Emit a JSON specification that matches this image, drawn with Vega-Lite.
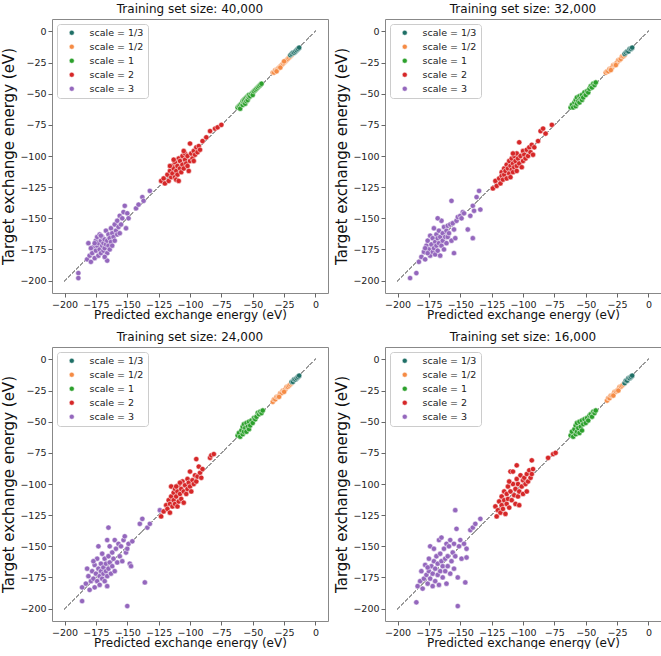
{
  "$schema": "https://vega.github.io/schema/vega-lite/v6.json",
  "padding": {"left": 1, "top": 2, "right": 0, "bottom": 0},
  "background": "white",
  "datasets": {
    "p1": [
      {"s":"3","x":-189,"y":-194},{"s":"3","x":-189,"y":-198},{"s":"3","x":-182,"y":-183},{"s":"3","x":-181,"y":-170},{"s":"3","x":-180,"y":-180},{"s":"3","x":-179,"y":-185},{"s":"3","x":-178,"y":-178},{"s":"3","x":-177,"y":-173},{"s":"3","x":-176,"y":-182},{"s":"3","x":-175,"y":-168},{"s":"3","x":-175,"y":-176},{"s":"3","x":-174,"y":-172},{"s":"3","x":-174,"y":-165},{"s":"3","x":-173,"y":-180},{"s":"3","x":-173,"y":-170},{"s":"3","x":-172,"y":-175},{"s":"3","x":-172,"y":-163},{"s":"3","x":-171,"y":-178},{"s":"3","x":-171,"y":-168},{"s":"3","x":-170,"y":-172},{"s":"3","x":-170,"y":-165},{"s":"3","x":-169,"y":-176},{"s":"3","x":-169,"y":-170},{"s":"3","x":-168,"y":-167},{"s":"3","x":-168,"y":-174},{"s":"3","x":-167,"y":-160},{"s":"3","x":-167,"y":-171},{"s":"3","x":-166,"y":-178},{"s":"3","x":-166,"y":-168},{"s":"3","x":-165,"y":-163},{"s":"3","x":-165,"y":-172},{"s":"3","x":-164,"y":-166},{"s":"3","x":-164,"y":-175},{"s":"3","x":-163,"y":-158},{"s":"3","x":-163,"y":-169},{"s":"3","x":-162,"y":-162},{"s":"3","x":-162,"y":-172},{"s":"3","x":-161,"y":-165},{"s":"3","x":-160,"y":-155},{"s":"3","x":-160,"y":-168},{"s":"3","x":-159,"y":-160},{"s":"3","x":-158,"y":-163},{"s":"3","x":-158,"y":-152},{"s":"3","x":-157,"y":-157},{"s":"3","x":-156,"y":-148},{"s":"3","x":-156,"y":-162},{"s":"3","x":-155,"y":-155},{"s":"3","x":-154,"y":-150},{"s":"3","x":-153,"y":-145},{"s":"3","x":-152,"y":-140},{"s":"3","x":-151,"y":-158},{"s":"3","x":-150,"y":-146},{"s":"3","x":-149,"y":-150},{"s":"3","x":-143,"y":-142},{"s":"3","x":-141,"y":-139},{"s":"3","x":-138,"y":-133},{"s":"3","x":-137,"y":-136},{"s":"3","x":-132,"y":-128},{"s":"3","x":-166,"y":-184},{"s":"3","x":-168,"y":-181},{"s":"3","x":-171,"y":-164},{"s":"3","x":-176,"y":-170},{"s":"3","x":-179,"y":-174},
      {"s":"2","x":-123,"y":-120},{"s":"2","x":-121,"y":-118},{"s":"2","x":-120,"y":-122},{"s":"2","x":-118,"y":-115},{"s":"2","x":-117,"y":-120},{"s":"2","x":-116,"y":-112},{"s":"2","x":-115,"y":-117},{"s":"2","x":-114,"y":-108},{"s":"2","x":-114,"y":-114},{"s":"2","x":-113,"y":-110},{"s":"2","x":-112,"y":-117},{"s":"2","x":-112,"y":-105},{"s":"2","x":-111,"y":-112},{"s":"2","x":-110,"y":-108},{"s":"2","x":-110,"y":-115},{"s":"2","x":-109,"y":-102},{"s":"2","x":-108,"y":-110},{"s":"2","x":-108,"y":-104},{"s":"2","x":-107,"y":-113},{"s":"2","x":-106,"y":-100},{"s":"2","x":-106,"y":-107},{"s":"2","x":-105,"y":-110},{"s":"2","x":-104,"y":-103},{"s":"2","x":-104,"y":-98},{"s":"2","x":-103,"y":-106},{"s":"2","x":-102,"y":-100},{"s":"2","x":-101,"y":-112},{"s":"2","x":-100,"y":-90},{"s":"2","x":-100,"y":-104},{"s":"2","x":-99,"y":-98},{"s":"2","x":-98,"y":-102},{"s":"2","x":-97,"y":-96},{"s":"2","x":-96,"y":-99},{"s":"2","x":-95,"y":-93},{"s":"2","x":-94,"y":-97},{"s":"2","x":-93,"y":-92},{"s":"2","x":-92,"y":-95},{"s":"2","x":-90,"y":-88},{"s":"2","x":-87,"y":-85},{"s":"2","x":-84,"y":-80},{"s":"2","x":-80,"y":-78},{"s":"2","x":-78,"y":-77},{"s":"2","x":-75,"y":-75},{"s":"2","x":-111,"y":-119},{"s":"2","x":-109,"y":-120},{"s":"2","x":-105,"y":-96},{"s":"2","x":-102,"y":-108},{"s":"2","x":-97,"y":-104},{"s":"2","x":-113,"y":-103},{"s":"2","x":-116,"y":-108},
      {"s":"1","x":-62,"y":-61},{"s":"1","x":-61,"y":-60},{"s":"1","x":-60,"y":-59},{"s":"1","x":-60,"y":-62},{"s":"1","x":-59,"y":-58},{"s":"1","x":-58,"y":-59},{"s":"1","x":-58,"y":-56},{"s":"1","x":-57,"y":-57},{"s":"1","x":-57,"y":-55},{"s":"1","x":-56,"y":-58},{"s":"1","x":-56,"y":-54},{"s":"1","x":-55,"y":-56},{"s":"1","x":-55,"y":-53},{"s":"1","x":-54,"y":-55},{"s":"1","x":-54,"y":-52},{"s":"1","x":-53,"y":-53},{"s":"1","x":-53,"y":-51},{"s":"1","x":-52,"y":-52},{"s":"1","x":-51,"y":-50},{"s":"1","x":-50,"y":-49},{"s":"1","x":-50,"y":-51},{"s":"1","x":-49,"y":-48},{"s":"1","x":-48,"y":-47},{"s":"1","x":-47,"y":-46},{"s":"1","x":-46,"y":-45},{"s":"1","x":-45,"y":-44},{"s":"1","x":-44,"y":-43},{"s":"1","x":-43,"y":-42},
      {"s":"1/2","x":-34,"y":-33},{"s":"1/2","x":-33,"y":-33},{"s":"1/2","x":-32,"y":-31},{"s":"1/2","x":-31,"y":-31},{"s":"1/2","x":-30,"y":-30},{"s":"1/2","x":-29,"y":-29},{"s":"1/2","x":-28,"y":-28},{"s":"1/2","x":-27,"y":-27},{"s":"1/2","x":-26,"y":-26},{"s":"1/2","x":-25,"y":-25},{"s":"1/2","x":-24,"y":-24},{"s":"1/2","x":-23,"y":-23},{"s":"1/2","x":-22,"y":-22},{"s":"1/2","x":-21,"y":-21},{"s":"1/2","x":-20,"y":-20},{"s":"1/2","x":-19,"y":-19},{"s":"1/2","x":-31,"y":-32},{"s":"1/2","x":-28,"y":-29},{"s":"1/2","x":-25,"y":-24},
      {"s":"1/3","x":-20,"y":-19},{"s":"1/3","x":-19,"y":-18},{"s":"1/3","x":-18,"y":-17},{"s":"1/3","x":-17,"y":-17},{"s":"1/3","x":-16,"y":-16},{"s":"1/3","x":-15,"y":-15},{"s":"1/3","x":-14,"y":-14},{"s":"1/3","x":-13,"y":-13}
    ],
    "p2": [
      {"s":"3","x":-190,"y":-198},{"s":"3","x":-185,"y":-194},{"s":"3","x":-183,"y":-185},{"s":"3","x":-181,"y":-181},{"s":"3","x":-179,"y":-177},{"s":"3","x":-178,"y":-183},{"s":"3","x":-177,"y":-172},{"s":"3","x":-176,"y":-168},{"s":"3","x":-175,"y":-175},{"s":"3","x":-174,"y":-180},{"s":"3","x":-174,"y":-164},{"s":"3","x":-173,"y":-171},{"s":"3","x":-172,"y":-177},{"s":"3","x":-172,"y":-166},{"s":"3","x":-171,"y":-158},{"s":"3","x":-171,"y":-174},{"s":"3","x":-170,"y":-169},{"s":"3","x":-170,"y":-179},{"s":"3","x":-169,"y":-163},{"s":"3","x":-169,"y":-172},{"s":"3","x":-168,"y":-166},{"s":"3","x":-168,"y":-176},{"s":"3","x":-167,"y":-160},{"s":"3","x":-167,"y":-170},{"s":"3","x":-166,"y":-180},{"s":"3","x":-166,"y":-165},{"s":"3","x":-165,"y":-172},{"s":"3","x":-164,"y":-162},{"s":"3","x":-164,"y":-168},{"s":"3","x":-163,"y":-175},{"s":"3","x":-163,"y":-157},{"s":"3","x":-162,"y":-165},{"s":"3","x":-161,"y":-160},{"s":"3","x":-161,"y":-170},{"s":"3","x":-160,"y":-156},{"s":"3","x":-160,"y":-165},{"s":"3","x":-159,"y":-162},{"s":"3","x":-158,"y":-155},{"s":"3","x":-157,"y":-136},{"s":"3","x":-157,"y":-168},{"s":"3","x":-156,"y":-154},{"s":"3","x":-155,"y":-178},{"s":"3","x":-155,"y":-159},{"s":"3","x":-154,"y":-166},{"s":"3","x":-153,"y":-152},{"s":"3","x":-152,"y":-149},{"s":"3","x":-150,"y":-148},{"s":"3","x":-149,"y":-150},{"s":"3","x":-148,"y":-145},{"s":"3","x":-147,"y":-146},{"s":"3","x":-144,"y":-159},{"s":"3","x":-142,"y":-148},{"s":"3","x":-140,"y":-140},{"s":"3","x":-140,"y":-166},{"s":"3","x":-139,"y":-144},{"s":"3","x":-137,"y":-133},{"s":"3","x":-135,"y":-128},{"s":"3","x":-134,"y":-143},{"s":"3","x":-165,"y":-152},{"s":"3","x":-168,"y":-150},{"s":"3","x":-176,"y":-178},{"s":"3","x":-178,"y":-174},
      {"s":"2","x":-124,"y":-126},{"s":"2","x":-122,"y":-120},{"s":"2","x":-121,"y":-124},{"s":"2","x":-119,"y":-118},{"s":"2","x":-118,"y":-122},{"s":"2","x":-117,"y":-113},{"s":"2","x":-117,"y":-116},{"s":"2","x":-116,"y":-119},{"s":"2","x":-115,"y":-110},{"s":"2","x":-115,"y":-115},{"s":"2","x":-114,"y":-112},{"s":"2","x":-113,"y":-118},{"s":"2","x":-113,"y":-107},{"s":"2","x":-112,"y":-110},{"s":"2","x":-111,"y":-114},{"s":"2","x":-111,"y":-104},{"s":"2","x":-110,"y":-108},{"s":"2","x":-110,"y":-117},{"s":"2","x":-109,"y":-102},{"s":"2","x":-109,"y":-111},{"s":"2","x":-108,"y":-106},{"s":"2","x":-108,"y":-113},{"s":"2","x":-107,"y":-100},{"s":"2","x":-107,"y":-109},{"s":"2","x":-106,"y":-104},{"s":"2","x":-105,"y":-108},{"s":"2","x":-105,"y":-98},{"s":"2","x":-104,"y":-102},{"s":"2","x":-103,"y":-106},{"s":"2","x":-102,"y":-100},{"s":"2","x":-101,"y":-109},{"s":"2","x":-100,"y":-96},{"s":"2","x":-100,"y":-104},{"s":"2","x":-99,"y":-99},{"s":"2","x":-98,"y":-102},{"s":"2","x":-97,"y":-95},{"s":"2","x":-96,"y":-100},{"s":"2","x":-95,"y":-93},{"s":"2","x":-94,"y":-97},{"s":"2","x":-93,"y":-91},{"s":"2","x":-92,"y":-99},{"s":"2","x":-91,"y":-93},{"s":"2","x":-88,"y":-88},{"s":"2","x":-86,"y":-80},{"s":"2","x":-84,"y":-78},{"s":"2","x":-82,"y":-82},{"s":"2","x":-77,"y":-75},{"s":"2","x":-103,"y":-89},{"s":"2","x":-108,"y":-98},{"s":"2","x":-105,"y":-112},
      {"s":"1","x":-62,"y":-61},{"s":"1","x":-61,"y":-59},{"s":"1","x":-60,"y":-61},{"s":"1","x":-59,"y":-57},{"s":"1","x":-58,"y":-60},{"s":"1","x":-58,"y":-55},{"s":"1","x":-57,"y":-58},{"s":"1","x":-57,"y":-53},{"s":"1","x":-56,"y":-56},{"s":"1","x":-55,"y":-57},{"s":"1","x":-55,"y":-52},{"s":"1","x":-54,"y":-54},{"s":"1","x":-53,"y":-55},{"s":"1","x":-53,"y":-51},{"s":"1","x":-52,"y":-53},{"s":"1","x":-51,"y":-49},{"s":"1","x":-50,"y":-51},{"s":"1","x":-49,"y":-48},{"s":"1","x":-48,"y":-49},{"s":"1","x":-47,"y":-46},{"s":"1","x":-46,"y":-44},{"s":"1","x":-45,"y":-45},{"s":"1","x":-44,"y":-42},{"s":"1","x":-43,"y":-43},{"s":"1","x":-42,"y":-41},
      {"s":"1/2","x":-34,"y":-33},{"s":"1/2","x":-33,"y":-32},{"s":"1/2","x":-32,"y":-32},{"s":"1/2","x":-31,"y":-30},{"s":"1/2","x":-30,"y":-30},{"s":"1/2","x":-29,"y":-29},{"s":"1/2","x":-28,"y":-27},{"s":"1/2","x":-27,"y":-27},{"s":"1/2","x":-26,"y":-26},{"s":"1/2","x":-25,"y":-25},{"s":"1/2","x":-24,"y":-23},{"s":"1/2","x":-23,"y":-23},{"s":"1/2","x":-22,"y":-22},{"s":"1/2","x":-21,"y":-20},{"s":"1/2","x":-20,"y":-20},{"s":"1/2","x":-19,"y":-19},{"s":"1/2","x":-30,"y":-31},{"s":"1/2","x":-26,"y":-27},
      {"s":"1/3","x":-19,"y":-18},{"s":"1/3","x":-18,"y":-17},{"s":"1/3","x":-17,"y":-16},{"s":"1/3","x":-16,"y":-16},{"s":"1/3","x":-15,"y":-14},{"s":"1/3","x":-14,"y":-14},{"s":"1/3","x":-13,"y":-13}
    ],
    "p3": [
      {"s":"3","x":-186,"y":-194},{"s":"3","x":-186,"y":-183},{"s":"3","x":-183,"y":-180},{"s":"3","x":-182,"y":-168},{"s":"3","x":-181,"y":-174},{"s":"3","x":-180,"y":-185},{"s":"3","x":-179,"y":-178},{"s":"3","x":-178,"y":-170},{"s":"3","x":-177,"y":-176},{"s":"3","x":-176,"y":-183},{"s":"3","x":-176,"y":-165},{"s":"3","x":-175,"y":-172},{"s":"3","x":-174,"y":-178},{"s":"3","x":-174,"y":-160},{"s":"3","x":-173,"y":-168},{"s":"3","x":-172,"y":-174},{"s":"3","x":-172,"y":-181},{"s":"3","x":-171,"y":-164},{"s":"3","x":-171,"y":-170},{"s":"3","x":-170,"y":-176},{"s":"3","x":-170,"y":-156},{"s":"3","x":-169,"y":-167},{"s":"3","x":-169,"y":-172},{"s":"3","x":-168,"y":-160},{"s":"3","x":-168,"y":-178},{"s":"3","x":-167,"y":-164},{"s":"3","x":-167,"y":-170},{"s":"3","x":-166,"y":-145},{"s":"3","x":-166,"y":-174},{"s":"3","x":-166,"y":-182},{"s":"3","x":-165,"y":-135},{"s":"3","x":-165,"y":-158},{"s":"3","x":-165,"y":-168},{"s":"3","x":-164,"y":-150},{"s":"3","x":-164,"y":-163},{"s":"3","x":-163,"y":-172},{"s":"3","x":-162,"y":-155},{"s":"3","x":-162,"y":-166},{"s":"3","x":-161,"y":-160},{"s":"3","x":-160,"y":-145},{"s":"3","x":-160,"y":-170},{"s":"3","x":-159,"y":-152},{"s":"3","x":-158,"y":-163},{"s":"3","x":-157,"y":-148},{"s":"3","x":-156,"y":-158},{"s":"3","x":-155,"y":-150},{"s":"3","x":-154,"y":-162},{"s":"3","x":-153,"y":-145},{"s":"3","x":-152,"y":-142},{"s":"3","x":-151,"y":-155},{"s":"3","x":-150,"y":-198},{"s":"3","x":-150,"y":-152},{"s":"3","x":-149,"y":-148},{"s":"3","x":-148,"y":-164},{"s":"3","x":-147,"y":-166},{"s":"3","x":-146,"y":-146},{"s":"3","x":-140,"y":-132},{"s":"3","x":-138,"y":-128},{"s":"3","x":-136,"y":-179},{"s":"3","x":-134,"y":-135},{"s":"3","x":-132,"y":-132},{"s":"3","x":-124,"y":-121},{"s":"3","x":-173,"y":-150},{"s":"3","x":-177,"y":-162},
      {"s":"2","x":-123,"y":-126},{"s":"2","x":-121,"y":-122},{"s":"2","x":-119,"y":-117},{"s":"2","x":-118,"y":-120},{"s":"2","x":-117,"y":-113},{"s":"2","x":-116,"y":-123},{"s":"2","x":-116,"y":-116},{"s":"2","x":-115,"y":-102},{"s":"2","x":-115,"y":-110},{"s":"2","x":-114,"y":-118},{"s":"2","x":-113,"y":-107},{"s":"2","x":-113,"y":-113},{"s":"2","x":-112,"y":-116},{"s":"2","x":-112,"y":-104},{"s":"2","x":-111,"y":-110},{"s":"2","x":-110,"y":-106},{"s":"2","x":-110,"y":-118},{"s":"2","x":-109,"y":-114},{"s":"2","x":-109,"y":-101},{"s":"2","x":-108,"y":-108},{"s":"2","x":-107,"y":-104},{"s":"2","x":-107,"y":-112},{"s":"2","x":-106,"y":-98},{"s":"2","x":-105,"y":-106},{"s":"2","x":-105,"y":-115},{"s":"2","x":-104,"y":-101},{"s":"2","x":-103,"y":-108},{"s":"2","x":-102,"y":-96},{"s":"2","x":-102,"y":-104},{"s":"2","x":-101,"y":-99},{"s":"2","x":-100,"y":-90},{"s":"2","x":-100,"y":-102},{"s":"2","x":-99,"y":-106},{"s":"2","x":-98,"y":-97},{"s":"2","x":-97,"y":-100},{"s":"2","x":-96,"y":-93},{"s":"2","x":-95,"y":-80},{"s":"2","x":-95,"y":-98},{"s":"2","x":-94,"y":-94},{"s":"2","x":-93,"y":-86},{"s":"2","x":-92,"y":-91},{"s":"2","x":-91,"y":-95},{"s":"2","x":-90,"y":-88},{"s":"2","x":-84,"y":-79},{"s":"2","x":-83,"y":-77},{"s":"2","x":-81,"y":-76},{"s":"2","x":-108,"y":-99},{"s":"2","x":-111,"y":-102},
      {"s":"1","x":-62,"y":-61},{"s":"1","x":-61,"y":-59},{"s":"1","x":-60,"y":-62},{"s":"1","x":-59,"y":-57},{"s":"1","x":-58,"y":-60},{"s":"1","x":-58,"y":-54},{"s":"1","x":-57,"y":-58},{"s":"1","x":-57,"y":-52},{"s":"1","x":-56,"y":-55},{"s":"1","x":-55,"y":-58},{"s":"1","x":-55,"y":-51},{"s":"1","x":-54,"y":-54},{"s":"1","x":-53,"y":-56},{"s":"1","x":-53,"y":-50},{"s":"1","x":-52,"y":-53},{"s":"1","x":-51,"y":-49},{"s":"1","x":-50,"y":-51},{"s":"1","x":-49,"y":-47},{"s":"1","x":-48,"y":-48},{"s":"1","x":-47,"y":-46},{"s":"1","x":-46,"y":-43},{"s":"1","x":-45,"y":-44},{"s":"1","x":-44,"y":-42},{"s":"1","x":-43,"y":-43},{"s":"1","x":-42,"y":-41},
      {"s":"1/2","x":-34,"y":-34},{"s":"1/2","x":-33,"y":-32},{"s":"1/2","x":-32,"y":-32},{"s":"1/2","x":-31,"y":-30},{"s":"1/2","x":-30,"y":-30},{"s":"1/2","x":-29,"y":-29},{"s":"1/2","x":-28,"y":-27},{"s":"1/2","x":-27,"y":-27},{"s":"1/2","x":-26,"y":-25},{"s":"1/2","x":-25,"y":-25},{"s":"1/2","x":-24,"y":-24},{"s":"1/2","x":-23,"y":-22},{"s":"1/2","x":-22,"y":-22},{"s":"1/2","x":-21,"y":-21},{"s":"1/2","x":-20,"y":-20},{"s":"1/2","x":-19,"y":-19},{"s":"1/2","x":-29,"y":-30},{"s":"1/2","x":-25,"y":-26},
      {"s":"1/3","x":-19,"y":-18},{"s":"1/3","x":-18,"y":-18},{"s":"1/3","x":-17,"y":-16},{"s":"1/3","x":-16,"y":-16},{"s":"1/3","x":-15,"y":-15},{"s":"1/3","x":-14,"y":-14},{"s":"1/3","x":-13,"y":-13}
    ],
    "p4": [
      {"s":"3","x":-185,"y":-195},{"s":"3","x":-184,"y":-182},{"s":"3","x":-182,"y":-178},{"s":"3","x":-181,"y":-170},{"s":"3","x":-180,"y":-184},{"s":"3","x":-179,"y":-176},{"s":"3","x":-178,"y":-165},{"s":"3","x":-177,"y":-173},{"s":"3","x":-176,"y":-180},{"s":"3","x":-175,"y":-160},{"s":"3","x":-175,"y":-170},{"s":"3","x":-174,"y":-150},{"s":"3","x":-174,"y":-176},{"s":"3","x":-173,"y":-166},{"s":"3","x":-172,"y":-182},{"s":"3","x":-172,"y":-172},{"s":"3","x":-171,"y":-162},{"s":"3","x":-170,"y":-168},{"s":"3","x":-170,"y":-178},{"s":"3","x":-169,"y":-158},{"s":"3","x":-168,"y":-173},{"s":"3","x":-168,"y":-164},{"s":"3","x":-167,"y":-145},{"s":"3","x":-167,"y":-181},{"s":"3","x":-166,"y":-156},{"s":"3","x":-166,"y":-170},{"s":"3","x":-165,"y":-143},{"s":"3","x":-165,"y":-162},{"s":"3","x":-164,"y":-175},{"s":"3","x":-164,"y":-166},{"s":"3","x":-163,"y":-152},{"s":"3","x":-162,"y":-160},{"s":"3","x":-162,"y":-170},{"s":"3","x":-161,"y":-148},{"s":"3","x":-161,"y":-180},{"s":"3","x":-160,"y":-158},{"s":"3","x":-160,"y":-166},{"s":"3","x":-159,"y":-150},{"s":"3","x":-158,"y":-172},{"s":"3","x":-158,"y":-145},{"s":"3","x":-157,"y":-162},{"s":"3","x":-156,"y":-155},{"s":"3","x":-155,"y":-168},{"s":"3","x":-155,"y":-148},{"s":"3","x":-154,"y":-121},{"s":"3","x":-154,"y":-158},{"s":"3","x":-153,"y":-136},{"s":"3","x":-152,"y":-175},{"s":"3","x":-152,"y":-198},{"s":"3","x":-151,"y":-150},{"s":"3","x":-150,"y":-145},{"s":"3","x":-149,"y":-160},{"s":"3","x":-147,"y":-148},{"s":"3","x":-146,"y":-179},{"s":"3","x":-145,"y":-152},{"s":"3","x":-145,"y":-159},{"s":"3","x":-142,"y":-137},{"s":"3","x":-140,"y":-135},{"s":"3","x":-138,"y":-132},{"s":"3","x":-134,"y":-128},{"s":"3","x":-176,"y":-167},{"s":"3","x":-171,"y":-152},
      {"s":"2","x":-122,"y":-118},{"s":"2","x":-121,"y":-126},{"s":"2","x":-120,"y":-121},{"s":"2","x":-119,"y":-114},{"s":"2","x":-118,"y":-123},{"s":"2","x":-117,"y":-110},{"s":"2","x":-117,"y":-117},{"s":"2","x":-116,"y":-120},{"s":"2","x":-115,"y":-106},{"s":"2","x":-115,"y":-113},{"s":"2","x":-114,"y":-124},{"s":"2","x":-113,"y":-108},{"s":"2","x":-113,"y":-116},{"s":"2","x":-112,"y":-102},{"s":"2","x":-112,"y":-112},{"s":"2","x":-111,"y":-119},{"s":"2","x":-110,"y":-90},{"s":"2","x":-110,"y":-106},{"s":"2","x":-109,"y":-113},{"s":"2","x":-108,"y":-100},{"s":"2","x":-108,"y":-90},{"s":"2","x":-107,"y":-109},{"s":"2","x":-106,"y":-116},{"s":"2","x":-106,"y":-104},{"s":"2","x":-105,"y":-96},{"s":"2","x":-105,"y":-85},{"s":"2","x":-104,"y":-110},{"s":"2","x":-104,"y":-100},{"s":"2","x":-103,"y":-106},{"s":"2","x":-102,"y":-93},{"s":"2","x":-101,"y":-102},{"s":"2","x":-100,"y":-97},{"s":"2","x":-100,"y":-108},{"s":"2","x":-99,"y":-95},{"s":"2","x":-98,"y":-100},{"s":"2","x":-97,"y":-92},{"s":"2","x":-96,"y":-98},{"s":"2","x":-95,"y":-89},{"s":"2","x":-94,"y":-95},{"s":"2","x":-93,"y":-81},{"s":"2","x":-93,"y":-92},{"s":"2","x":-92,"y":-88},{"s":"2","x":-80,"y":-79},{"s":"2","x":-76,"y":-76},{"s":"2","x":-74,"y":-75},{"s":"2","x":-111,"y":-98},{"s":"2","x":-103,"y":-117},{"s":"2","x":-97,"y":-106},
      {"s":"1","x":-62,"y":-61},{"s":"1","x":-61,"y":-58},{"s":"1","x":-60,"y":-62},{"s":"1","x":-59,"y":-56},{"s":"1","x":-58,"y":-60},{"s":"1","x":-58,"y":-53},{"s":"1","x":-57,"y":-58},{"s":"1","x":-57,"y":-51},{"s":"1","x":-56,"y":-55},{"s":"1","x":-55,"y":-59},{"s":"1","x":-55,"y":-50},{"s":"1","x":-54,"y":-54},{"s":"1","x":-53,"y":-57},{"s":"1","x":-53,"y":-49},{"s":"1","x":-52,"y":-52},{"s":"1","x":-51,"y":-48},{"s":"1","x":-50,"y":-51},{"s":"1","x":-49,"y":-47},{"s":"1","x":-48,"y":-49},{"s":"1","x":-47,"y":-45},{"s":"1","x":-46,"y":-44},{"s":"1","x":-45,"y":-46},{"s":"1","x":-44,"y":-42},{"s":"1","x":-43,"y":-43},{"s":"1","x":-42,"y":-41},
      {"s":"1/2","x":-33,"y":-33},{"s":"1/2","x":-32,"y":-31},{"s":"1/2","x":-31,"y":-31},{"s":"1/2","x":-30,"y":-29},{"s":"1/2","x":-29,"y":-29},{"s":"1/2","x":-28,"y":-28},{"s":"1/2","x":-27,"y":-26},{"s":"1/2","x":-26,"y":-26},{"s":"1/2","x":-25,"y":-25},{"s":"1/2","x":-24,"y":-24},{"s":"1/2","x":-23,"y":-22},{"s":"1/2","x":-22,"y":-22},{"s":"1/2","x":-21,"y":-21},{"s":"1/2","x":-20,"y":-20},{"s":"1/2","x":-19,"y":-19},{"s":"1/2","x":-28,"y":-29},{"s":"1/2","x":-24,"y":-25},
      {"s":"1/3","x":-19,"y":-19},{"s":"1/3","x":-18,"y":-17},{"s":"1/3","x":-17,"y":-17},{"s":"1/3","x":-16,"y":-15},{"s":"1/3","x":-15,"y":-15},{"s":"1/3","x":-14,"y":-14},{"s":"1/3","x":-13,"y":-13}
    ]
  },
  "columns": 2,
  "spacing": {"row": 9, "column": 5},
  "concat": [
    {
      "width": 276, "height": 274,
      "title": "Training set size: 40,000",
      "data": {"name": "p1"},
      "encoding": {
        "x": {"type": "quantitative", "title": "Predicted exchange energy (eV)", "scale": {"domain": [-210, 10], "nice": false, "zero": false}, "axis": {"values": [-200, -175, -150, -125, -100, -75, -50, -25, 0], "labelOverlap": false, "titlePadding": 1}},
        "y": {"type": "quantitative", "title": "Target exchange energy (eV)", "scale": {"domain": [-210, 10], "nice": false, "zero": false}, "axis": {"values": [-200, -175, -150, -125, -100, -75, -50, -25, 0], "labelOverlap": false, "titleFontSize": 15}}
      },
      "layer": [
        {"mark": {"type": "rule", "strokeDash": [3, 2.5], "color": "#999999", "strokeWidth": 0.9},
         "encoding": {"x": {"datum": -200}, "y": {"datum": -200}, "x2": {"datum": 0}, "y2": {"datum": 0}}},
        {"mark": {"type": "circle", "size": 28, "opacity": 1, "stroke": "white", "strokeWidth": 0.5},
         "encoding": {
           "x": {"field": "x"},
           "y": {"field": "y"},
           "color": {"field": "s", "type": "nominal", "scale": {"domain": ["1/3", "1/2", "1", "2", "3"], "range": ["#1f6f66", "#f58b45", "#2ca02c", "#d62728", "#9467bd"]}, "legend": {"labelExpr": "'scale = ' + datum.label"}}
         }}
      ]
    },
    {
      "width": 276, "height": 274,
      "title": "Training set size: 32,000",
      "data": {"name": "p2"},
      "encoding": {
        "x": {"type": "quantitative", "title": "Predicted exchange energy (eV)", "scale": {"domain": [-210, 10], "nice": false, "zero": false}, "axis": {"values": [-200, -175, -150, -125, -100, -75, -50, -25, 0], "labelOverlap": false, "titlePadding": 1}},
        "y": {"type": "quantitative", "title": "Target exchange energy (eV)", "scale": {"domain": [-210, 10], "nice": false, "zero": false}, "axis": {"values": [-200, -175, -150, -125, -100, -75, -50, -25, 0], "labelOverlap": false, "titleFontSize": 15}}
      },
      "layer": [
        {"mark": {"type": "rule", "strokeDash": [3, 2.5], "color": "#999999", "strokeWidth": 0.9},
         "encoding": {"x": {"datum": -200}, "y": {"datum": -200}, "x2": {"datum": 0}, "y2": {"datum": 0}}},
        {"mark": {"type": "circle", "size": 28, "opacity": 1, "stroke": "white", "strokeWidth": 0.5},
         "encoding": {
           "x": {"field": "x"},
           "y": {"field": "y"},
           "color": {"field": "s", "type": "nominal", "scale": {"domain": ["1/3", "1/2", "1", "2", "3"], "range": ["#1f6f66", "#f58b45", "#2ca02c", "#d62728", "#9467bd"]}, "legend": {"labelExpr": "'scale = ' + datum.label"}}
         }}
      ]
    },
    {
      "width": 276, "height": 274,
      "title": "Training set size: 24,000",
      "data": {"name": "p3"},
      "encoding": {
        "x": {"type": "quantitative", "title": "Predicted exchange energy (eV)", "scale": {"domain": [-210, 10], "nice": false, "zero": false}, "axis": {"values": [-200, -175, -150, -125, -100, -75, -50, -25, 0], "labelOverlap": false, "titlePadding": 1}},
        "y": {"type": "quantitative", "title": "Target exchange energy (eV)", "scale": {"domain": [-210, 10], "nice": false, "zero": false}, "axis": {"values": [-200, -175, -150, -125, -100, -75, -50, -25, 0], "labelOverlap": false, "titleFontSize": 15}}
      },
      "layer": [
        {"mark": {"type": "rule", "strokeDash": [3, 2.5], "color": "#999999", "strokeWidth": 0.9},
         "encoding": {"x": {"datum": -200}, "y": {"datum": -200}, "x2": {"datum": 0}, "y2": {"datum": 0}}},
        {"mark": {"type": "circle", "size": 28, "opacity": 1, "stroke": "white", "strokeWidth": 0.5},
         "encoding": {
           "x": {"field": "x"},
           "y": {"field": "y"},
           "color": {"field": "s", "type": "nominal", "scale": {"domain": ["1/3", "1/2", "1", "2", "3"], "range": ["#1f6f66", "#f58b45", "#2ca02c", "#d62728", "#9467bd"]}, "legend": {"labelExpr": "'scale = ' + datum.label"}}
         }}
      ]
    },
    {
      "width": 276, "height": 274,
      "title": "Training set size: 16,000",
      "data": {"name": "p4"},
      "encoding": {
        "x": {"type": "quantitative", "title": "Predicted exchange energy (eV)", "scale": {"domain": [-210, 10], "nice": false, "zero": false}, "axis": {"values": [-200, -175, -150, -125, -100, -75, -50, -25, 0], "labelOverlap": false, "titlePadding": 1}},
        "y": {"type": "quantitative", "title": "Target exchange energy (eV)", "scale": {"domain": [-210, 10], "nice": false, "zero": false}, "axis": {"values": [-200, -175, -150, -125, -100, -75, -50, -25, 0], "labelOverlap": false, "titleFontSize": 15}}
      },
      "layer": [
        {"mark": {"type": "rule", "strokeDash": [3, 2.5], "color": "#999999", "strokeWidth": 0.9},
         "encoding": {"x": {"datum": -200}, "y": {"datum": -200}, "x2": {"datum": 0}, "y2": {"datum": 0}}},
        {"mark": {"type": "circle", "size": 28, "opacity": 1, "stroke": "white", "strokeWidth": 0.5},
         "encoding": {
           "x": {"field": "x"},
           "y": {"field": "y"},
           "color": {"field": "s", "type": "nominal", "scale": {"domain": ["1/3", "1/2", "1", "2", "3"], "range": ["#1f6f66", "#f58b45", "#2ca02c", "#d62728", "#9467bd"]}, "legend": {"labelExpr": "'scale = ' + datum.label"}}
         }}
      ]
    }
  ],
  "resolve": {"scale": {"color": "independent"}, "legend": {"color": "independent"}},
  "config": {
    "font": "DejaVu Sans",
    "view": {"stroke": "#888888", "strokeWidth": 1},
    "axis": {"grid": false, "domain": false, "tickColor": "#666666", "tickSize": 4, "labelFontSize": 9.5, "labelColor": "#222222", "labelOverlap": false, "titleFontSize": 12, "titleFontWeight": "normal", "titleColor": "#111111", "labelFont": "DejaVu Sans", "titleFont": "DejaVu Sans", "labelPadding": 2, "titlePadding": 3, "labelFlush": false},
    "title": {"fontSize": 12, "fontWeight": "normal", "font": "DejaVu Sans", "offset": 3, "color": "#111111", "anchor": "middle"},
    "legend": {"orient": "top-left", "title": null, "labelFontSize": 9.5, "labelFont": "DejaVu Sans", "labelColor": "#222222", "symbolType": "circle", "symbolSize": 25, "symbolStrokeColor": "white", "symbolStrokeWidth": 0.5, "strokeColor": "#cccccc", "fillColor": "white", "padding": 4, "symbolOffset": 6, "cornerRadius": 3, "offset": 5, "rowPadding": 3, "labelOffset": 13}
  }
}
